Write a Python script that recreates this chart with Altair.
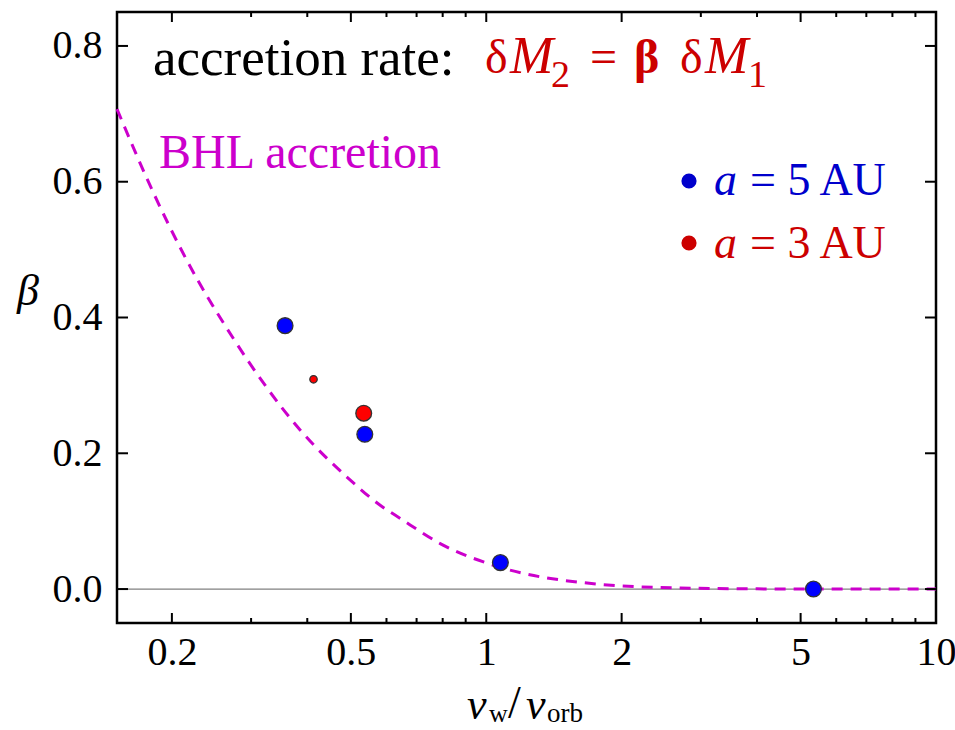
import altair as alt
import pandas as pd

# Simulated accretion efficiency vs. wind-to-orbital velocity ratio
blue_x = [0.357, 0.537, 1.075, 5.34]      # a = 5 AU runs
blue_y = [0.388, 0.228, 0.039, 0.0]
red_x = [0.534]                            # a = 3 AU run
red_y = [0.259]
red_small_x = [0.413]                      # a = 3 AU, low-resolution run
red_small_y = [0.309]

# Bondi-Hoyle-Lyttleton estimate
bhl_x = [0.151, 0.181, 0.214, 0.274, 0.386, 0.49, 0.581, 0.644, 0.79,
         1.074, 1.676, 2.7, 4.0, 6.0, 10.0]
bhl_y = [0.707, 0.587, 0.489, 0.369, 0.234, 0.165, 0.1235, 0.104, 0.067,
         0.032, 0.0088, 0.0015, 0.0003, 0.0, 0.0]

x_labels = [0.2, 0.5, 1, 2, 5, 10]
x_major = [0.2, 0.5, 1, 2, 5]
x_minor = [0.3, 0.4, 0.6, 0.7, 0.8, 0.9, 3, 4, 6, 7, 8, 9]
y_labels = [0.0, 0.2, 0.4, 0.6, 0.8]

W, H = 819, 611
FONT = "Liberation Serif"
BLUE, RED = "#0000ff", "#ff0000"
BLUE_TXT, RED_TXT = "#0000cc", "#cc0000"
MAGENTA = "#cc00cc"

xscale = alt.Scale(type="log", domain=[0.151, 10], nice=False)
yscale = alt.Scale(domain=[-0.05, 0.85], nice=False, zero=False)

x_axis = alt.Axis(values=x_labels, format="~g", ticks=False, domain=False,
                  grid=False, labelFont=FONT, labelFontSize=40,
                  labelColor="black", labelPadding=9, title=None,
                  labelFlush=False, labelOverlap=False)
y_axis = alt.Axis(values=y_labels, format=".1f", ticks=False, domain=False,
                  grid=False, labelFont=FONT, labelFontSize=40,
                  labelColor="black", labelPadding=15, title=None,
                  labelFlush=False, labelOverlap=False)

one = pd.DataFrame({"k": [0]})


def X(field):
    return alt.X(field, type="quantitative", scale=xscale, axis=x_axis)


def Y(field):
    return alt.Y(field, type="quantitative", scale=yscale, axis=y_axis)


def text(s, x, y, size, color="black", style="normal", weight="normal",
         align="left", baseline="alphabetic"):
    return alt.Chart(one).mark_text(
        text=s, font=FONT, fontSize=size, color=color, fontStyle=style,
        fontWeight=weight, align=align, baseline=baseline
    ).encode(x=alt.value(x), y=alt.value(y))


bhl_df = pd.DataFrame({"x": bhl_x, "y": bhl_y})

# zero reference line across the full width
zero = alt.Chart(pd.DataFrame({"z": [0.0]})).mark_rule(
    color="#808080", strokeWidth=1.2
).encode(y=Y("z"))

bhl = alt.Chart(bhl_df).mark_line(
    color=MAGENTA, strokeWidth=3, strokeDash=[11, 8], interpolate="monotone"
).encode(x=X("x"), y=Y("y"))


def dots(xs, ys, color, size):
    return alt.Chart(pd.DataFrame({"x": xs, "y": ys})).mark_point(
        filled=True, shape="circle", size=size, fill=color, opacity=1,
        stroke="#333333", strokeWidth=1.3
    ).encode(x=X("x"), y=Y("y"))


pts_blue = dots(blue_x, blue_y, BLUE, 250)
pts_red = dots(red_x, red_y, RED, 250)
pts_small = dots(red_small_x, red_small_y, RED, 55)


# inward tick marks on all four sides
def xticks(vals, y0, y1):
    return alt.Chart(pd.DataFrame({"t": vals})).mark_rule(
        color="black", strokeWidth=2
    ).encode(x=X("t"), y=alt.value(y0), y2=alt.value(y1))


def yticks(vals, x0, x1):
    return alt.Chart(pd.DataFrame({"t": vals})).mark_rule(
        color="black", strokeWidth=2
    ).encode(y=Y("t"), x=alt.value(x0), x2=alt.value(x1))


ticks = [
    xticks(x_major, H, H - 10), xticks(x_minor, H, H - 5),
    xticks(x_major, 0, 10), xticks(x_minor, 0, 5),
    yticks(y_labels, 0, 11), yticks(y_labels, W, W - 11),
]

# legend
legend_dots = [
    alt.Chart(one).mark_point(filled=True, shape="circle", size=230,
                              fill=BLUE_TXT, opacity=1, strokeWidth=0)
    .encode(x=alt.value(572), y=alt.value(169)),
    alt.Chart(one).mark_point(filled=True, shape="circle", size=230,
                              fill=RED_TXT, opacity=1, strokeWidth=0)
    .encode(x=alt.value(572), y=alt.value(231)),
]

labels = [
    text("accretion rate:", 36, 63, 53),
    text("δ", 368, 61, 48, RED_TXT),
    text("M", 393, 61, 52, RED_TXT, style="italic"),
    text("2", 434, 75, 38, RED_TXT),
    text("=", 473, 61, 48, RED_TXT),
    text("β", 517, 61, 48, RED_TXT, weight="bold"),
    text("δ", 563, 61, 48, RED_TXT),
    text("M", 588, 61, 52, RED_TXT, style="italic"),
    text("1", 631, 75, 38, RED_TXT),
    text("BHL accretion", 42, 156, 48, MAGENTA),
    text("a", 597, 183, 46, BLUE_TXT, style="italic"),
    text("= 5 AU", 633, 183, 46, BLUE_TXT),
    text("a", 597, 246, 46, RED_TXT, style="italic"),
    text("= 3 AU", 633, 246, 46, RED_TXT),
    # axis titles
    text("β", -100, 293, 44, style="italic"),
    text("v", 350, 707, 44, style="italic"),
    text("w", 372, 710, 26),
    text("/", 391, 706, 46),
    text("v", 409, 707, 44, style="italic"),
    text("orb", 430, 710, 27),
]

chart = alt.layer(
    zero, bhl, pts_blue, pts_red, pts_small, *ticks, *legend_dots, *labels
).properties(
    width=W, height=H,
    autosize=alt.AutoSizeParams(type="none"),
    padding={"left": 117, "top": 12, "right": 19, "bottom": 107},
    background="white",
).configure_view(stroke="black", strokeWidth=2.5)

chart.save("out.html", embed_options={"renderer": "svg", "actions": False})
